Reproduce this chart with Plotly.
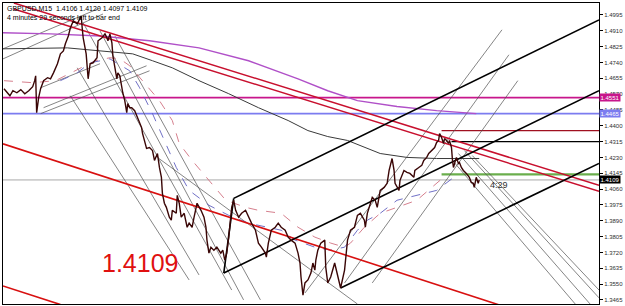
import plotly.graph_objects as go

# ---------------- data (bar index, price) ----------------
price_path = [
    (3, 1.4599), (6, 1.4577), (9, 1.4561), (12, 1.4588), (16, 1.4577), (20, 1.4594), (24, 1.4572), (28, 1.4588),
    (32, 1.4610), (34, 1.4642), (35, 1.4668), (36, 1.4470), (38, 1.4551), (40, 1.4599), (43, 1.4642), (47, 1.4658),
    (50, 1.4652), (53, 1.4684), (57, 1.4733), (60, 1.4786), (63, 1.4802), (65, 1.4840), (68, 1.4882), (70, 1.4925),
    (73, 1.4963), (77, 1.4947), (80, 1.4973), (81, 1.4989), (82, 1.4925), (83, 1.4872), (86, 1.4786), (88, 1.4652),
    (90, 1.4733), (93, 1.4738), (97, 1.4765), (98, 1.4856), (102, 1.4872), (105, 1.4893), (107, 1.4872), (108, 1.4856),
    (110, 1.4893), (112, 1.4845), (113, 1.4775), (115, 1.4711), (117, 1.4652), (118, 1.4684), (120, 1.4668), (123, 1.4577),
    (125, 1.4535), (127, 1.4470), (128, 1.4519), (130, 1.4497), (132, 1.4497), (135, 1.4481), (138, 1.4444), (140, 1.4412),
    (142, 1.4390), (143, 1.4358), (147, 1.4278), (150, 1.4283), (153, 1.4267), (155, 1.4214), (157, 1.4240), (158, 1.4251),
    (160, 1.4176), (162, 1.4123), (163, 1.4037), (165, 1.3984), (167, 1.3962), (170, 1.3909), (172, 1.3893), (173, 1.3946),
    (177, 1.3930), (178, 1.4026), (180, 1.3984), (182, 1.3909), (185, 1.3930), (188, 1.3855), (190, 1.3877), (193, 1.3855),
    (195, 1.3909), (197, 1.3962), (198, 1.3984), (202, 1.3946), (205, 1.3909), (207, 1.3855), (208, 1.3786), (210, 1.3716),
    (212, 1.3748), (215, 1.3732), (218, 1.3748), (222, 1.3716), (224, 1.3732), (226, 1.3679), (228, 1.3716), (230, 1.3802),
    (232, 1.3909), (233, 1.3962), (235, 1.4000), (237, 1.3946), (240, 1.3909), (243, 1.3930), (247, 1.3946), (250, 1.3909),
    (253, 1.3877), (257, 1.3839), (260, 1.3770), (263, 1.3748), (267, 1.3716), (268, 1.3695), (270, 1.3770), (273, 1.3839),
    (277, 1.3855), (280, 1.3877), (283, 1.3855), (287, 1.3839), (290, 1.3802), (293, 1.3786), (297, 1.3770), (300, 1.3716),
    (302, 1.3663), (303, 1.3588), (305, 1.3491), (307, 1.3556), (310, 1.3572), (313, 1.3609), (315, 1.3663), (317, 1.3625),
    (318, 1.3679), (320, 1.3732), (323, 1.3770), (327, 1.3786), (328, 1.3641), (330, 1.3556), (333, 1.3588), (337, 1.3663),
    (338, 1.3641), (340, 1.3588), (343, 1.3529), (347, 1.3625), (348, 1.3695), (350, 1.3786), (353, 1.3839), (357, 1.3855),
    (360, 1.3919), (363, 1.3930), (367, 1.3893), (368, 1.3855), (370, 1.3930), (373, 1.3984), (375, 1.4016), (378, 1.4000),
    (380, 1.3962), (383, 1.4053), (387, 1.4069), (390, 1.4091), (392, 1.4160), (395, 1.4224), (397, 1.4160), (398, 1.4091),
    (400, 1.4069), (402, 1.4053), (403, 1.4107), (407, 1.4160), (410, 1.4150), (413, 1.4144), (417, 1.4123), (418, 1.4160),
    (422, 1.4176), (425, 1.4187), (427, 1.4214), (430, 1.4230), (432, 1.4251), (435, 1.4267), (438, 1.4283), (440, 1.4310),
    (442, 1.4321), (443, 1.4358), (445, 1.4337), (447, 1.4305), (448, 1.4331), (450, 1.4321), (452, 1.4305), (453, 1.4321),
    (455, 1.4283), (456, 1.4214), (457, 1.4176), (459, 1.4214), (460, 1.4230), (462, 1.4198), (463, 1.4203), (465, 1.4176),
    (467, 1.4160), (470, 1.4144), (473, 1.4123), (475, 1.4096), (477, 1.4091), (478, 1.4069), (480, 1.4123), (482, 1.4091),
    (483, 1.4109),
]

ma_slow = [(2, 1.4813), (40, 1.4818), (67, 1.4818), (100, 1.4802), (133, 1.4786), (153, 1.4749), (173, 1.4711),
           (200, 1.4642), (230, 1.4572), (260, 1.4497), (290, 1.4428), (310, 1.4374), (330, 1.4342), (350, 1.4321),
           (383, 1.4251), (410, 1.4230), (440, 1.4224), (483, 1.4224)]

ma_violet = [(2, 1.4899), (50, 1.4893), (100, 1.4882), (150, 1.4856), (200, 1.4818), (250, 1.4749), (300, 1.4652),
             (330, 1.4588), (360, 1.4535), (400, 1.4503), (440, 1.4481), (480, 1.4465)]

env_pink = [(3, 1.4642), (32, 1.4631), (55, 1.4642), (75, 1.4695), (95, 1.4749), (110, 1.4765), (120, 1.4759),
            (130, 1.4722), (143, 1.4642), (160, 1.4535), (173, 1.4428), (180, 1.4305), (193, 1.4214), (210, 1.4107),
            (227, 1.4000), (247, 1.3962), (260, 1.3946), (283, 1.3930), (300, 1.3855), (317, 1.3802), (333, 1.3770),
            (347, 1.3748), (353, 1.3770), (367, 1.3855), (383, 1.3930), (400, 1.3962), (420, 1.4000), (447, 1.4123)]

env_blue = [(60, 1.4642), (77, 1.4684), (90, 1.4738), (110, 1.4759), (130, 1.4695), (140, 1.4604), (153, 1.4465),
            (165, 1.4321), (177, 1.4176), (190, 1.4053), (210, 1.3973), (230, 1.3919), (250, 1.3877), (283, 1.3839),
            (297, 1.3786), (317, 1.3748), (333, 1.3732), (347, 1.3748), (360, 1.3839), (370, 1.3893), (383, 1.3930),
            (400, 1.4000), (420, 1.4026), (440, 1.4053), (460, 1.4134)]

level_magenta = 1.4551
level_violet = 1.4465
level_red = 1.4374
level_black = 1.4315
level_green = 1.4139
last_price = 1.4109

# trendlines: (bar0, price0, bar1, price1)
trend_crimson = [(13, 1.5059, 604, 1.4080), (13, 1.5027, 604, 1.4048)]
trend_red = [(2, 1.4303, 604, 1.3264), (2, 1.3540, 60, 1.3440)]
pitchfork_black = [(235, 1.4010, 604, 1.4968), (225, 1.3609, 604, 1.4588),
                   (225, 1.3609, 235, 1.4010), (343, 1.3529, 604, 1.4198)]
thin_up = [(2, 1.4813, 100, 1.5032), (2, 1.4759, 103, 1.5000), (40, 1.4465, 150, 1.4695),
           (43, 1.4497, 147, 1.4722), (40, 1.4604, 100, 1.4733),
           (307, 1.3502, 506, 1.4915), (347, 1.3556, 513, 1.4781), (375, 1.3556, 522, 1.4642)]
thin_down = [(83, 1.4952, 233, 1.3518), (100, 1.4909, 245, 1.3465), (115, 1.4882, 262, 1.3465),
             (77, 1.4711, 200, 1.3599), (70, 1.4561, 190, 1.3572), (158, 1.4230, 360, 1.3443),
             (456, 1.4214, 580, 1.3443), (462, 1.4251, 595, 1.3443), (468, 1.4267, 604, 1.3476),
             (476, 1.4240, 604, 1.3518)]

tick_vals = [1.3465, 1.3550, 1.3635, 1.3720, 1.3805, 1.3890, 1.3975, 1.4060, 1.4145, 1.4230,
             1.4315, 1.4400, 1.4485, 1.4570, 1.4655, 1.4740, 1.4825, 1.4910, 1.4995]
tick_text = [f"{v:.4f}" for v in tick_vals]

header_1 = "GBPUSD,M15  1.4106 1.4120 1.4097 1.4109"
header_2 = "4 minutes 29 seconds left to bar end"
big_label = "1.4109"
timer_label = "4:29"

# ---------------- figure ----------------
fig = go.Figure()


def seg(x0, y0, x1, y1, color, width=1.0, dash="solid"):
    fig.add_trace(go.Scatter(x=[x0, x1], y=[y0, y1], mode="lines",
                             line=dict(color=color, width=width, dash=dash),
                             hoverinfo="skip", showlegend=False))


def curve(pts, color, width=1.0, dash="solid"):
    fig.add_trace(go.Scatter(x=[p[0] for p in pts], y=[p[1] for p in pts], mode="lines",
                             line=dict(color=color, width=width, dash=dash),
                             hoverinfo="skip", showlegend=False))


XMIN, XMAX = 2, 604

# horizontal levels
seg(XMIN, last_price, XMAX, last_price, "#a8a8a8", 1)
seg(XMIN, level_magenta, XMAX, level_magenta, "#c8168c", 1.6)
seg(XMIN, level_violet, XMAX, level_violet, "#7c7cf0", 1.6)
seg(445, level_red, XMAX, level_red, "#a01020", 1.4)
seg(455, level_black, XMAX, level_black, "#000000", 1.4)
seg(445, level_green, XMAX, level_green, "#6aae4c", 2.2)

# thin lines
for l in thin_up:
    seg(*l, color="#505050", width=0.7)
for l in thin_down:
    seg(*l, color="#505050", width=0.7)

# moving averages and envelopes
curve(ma_slow, "#3a3a3a", 1.0)
curve(ma_violet, "#b050c8", 1.4)
curve(env_pink, "#d07080", 0.9, "dash")
curve(env_blue, "#6060c0", 0.9, "dash")

# trendlines
for l in trend_crimson:
    seg(*l, color="#c8102e", width=1.5)
for l in trend_red:
    seg(*l, color="#d81010", width=1.6)
for l in pitchfork_black:
    seg(*l, color="#000000", width=1.6)

# price
curve(price_path, "#3a0606", 1.4)

annotations = [
    dict(x=0.004, y=1.0, xref="paper", yref="paper", xanchor="left", yanchor="top",
         text=header_1 + "<br>" + header_2, showarrow=False, align="left",
         font=dict(family="Liberation Sans", size=7, color="#000000")),
    dict(x=100, y=1.3662, xref="x", yref="y", xanchor="left", yanchor="middle",
         text=big_label, showarrow=False,
         font=dict(family="Liberation Sans", size=25, color="#e01010")),
    dict(x=492, y=1.4080, xref="x", yref="y", xanchor="left", yanchor="middle",
         text=timer_label, showarrow=False,
         font=dict(family="Liberation Sans", size=9, color="#303030")),
]
for val, col in [(level_magenta, "#c8168c"), (level_violet, "#7c7cf0"), (last_price, "#000000")]:
    annotations.append(dict(x=1.0, y=val, xref="paper", yref="y", xanchor="left", yanchor="middle",
                            text=f"{val:.4f}", showarrow=False, bgcolor=col, borderpad=0.5,
                            font=dict(family="Liberation Sans", size=6, color="#ffffff")))

fig.update_layout(
    width=625, height=306,
    margin=dict(l=2, r=21, t=2, b=2),
    paper_bgcolor="#ffffff", plot_bgcolor="#ffffff",
    showlegend=False,
    annotations=annotations,
    xaxis=dict(range=[XMIN, XMAX], showgrid=False, zeroline=False, showticklabels=False,
               showline=True, mirror=True, linecolor="#000000", linewidth=1, ticks=""),
    yaxis=dict(range=[1.3443, 1.5059], side="right", showgrid=False, zeroline=False,
               tickvals=tick_vals, ticktext=tick_text, ticks="outside", ticklen=3,
               tickcolor="#000000", tickfont=dict(family="Liberation Sans", size=6, color="#303030"),
               showline=True, mirror=True, linecolor="#000000", linewidth=1),
)

fig.write_html("out.html")
